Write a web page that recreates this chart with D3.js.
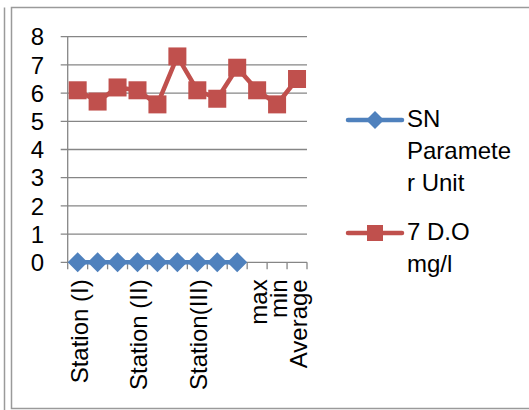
<!DOCTYPE html>
<html>
<head>
<meta charset="utf-8">
<script src="https://cdn.jsdelivr.net/npm/d3@7"></script>
<style>
  html, body { margin: 0; padding: 0; background: #fff; }
  svg { display: block; font-family: "Liberation Sans", Arial, sans-serif; }
</style>
</head>
<body>
<svg id="chart"></svg>
<script>
// categories along the x axis (blank ones carry no label)
const categories = ["Station (I)", "", "", "Station (II)", "", "", "Station(III)", "", "", "max", "min", "Average"];
// series "SN Parameter Unit" (only the nine station rows)
const snValues = [0, 0, 0, 0, 0, 0, 0, 0, 0, null, null, null];
// series "7 D.O mg/l"
const doValues = [6.1, 5.7, 6.2, 6.1, 5.6, 7.3, 6.1, 5.8, 6.9, 6.1, 5.6, 6.5];
const yTicks = [0, 1, 2, 3, 4, 5, 6, 7, 8];
const legendItems = [
    { lines: ["SN", "Paramete", "r Unit"], color: "#4F81BD", marker: "diamond" },
    { lines: ["7 D.O", "mg/l"], color: "#C0504D", marker: "square" }
];

const W = 529, H = 410;
const plot = { left: 67.7, right: 307, top: 36.7, bottom: 262.3 };
const fontSize = 24;

const svg = d3.select("#chart")
    .attr("width", W)
    .attr("height", H)
    .attr("viewBox", [0, 0, W, H]);

// outer frames
svg.append("line")
    .attr("x1", 4.5).attr("x2", 4.5).attr("y1", 7.5).attr("y2", H)
    .attr("stroke", "#9a9a9a").attr("stroke-width", 1.5);
svg.append("rect")
    .attr("x", 11.5).attr("y", 7.5)
    .attr("width", W + 10).attr("height", 401)
    .attr("fill", "none").attr("stroke", "#9a9a9a").attr("stroke-width", 1.5);

const idx = d3.range(categories.length);
const xScale = d3.scaleBand().domain(idx).range([plot.left, plot.right]).paddingInner(0).paddingOuter(0);
const yScale = d3.scaleLinear().domain([0, 8]).range([plot.bottom, plot.top]);
const cx = i => xScale(i) + xScale.bandwidth() / 2;

// horizontal gridlines with small outside ticks on the left
svg.append("g").selectAll("line")
    .data(yTicks)
    .join("line")
    .attr("x1", plot.left - 7)
    .attr("x2", plot.right)
    .attr("y1", d => yScale(d))
    .attr("y2", d => yScale(d))
    .attr("stroke", "#868686")
    .attr("stroke-width", 1.3);

// y axis line
svg.append("line")
    .attr("x1", plot.left).attr("x2", plot.left)
    .attr("y1", plot.top).attr("y2", plot.bottom)
    .attr("stroke", "#868686").attr("stroke-width", 1.3);

// y tick labels
svg.append("g").selectAll("text")
    .data(yTicks)
    .join("text")
    .attr("x", 44)
    .attr("y", d => yScale(d))
    .attr("dy", "0.36em")
    .attr("text-anchor", "end")
    .attr("font-size", fontSize)
    .attr("fill", "#000")
    .text(d => d);

// x tick marks at category boundaries
const bounds = d3.range(categories.length + 1).map(i => i < categories.length ? xScale(i) : plot.right);
svg.append("g").selectAll("line")
    .data(bounds)
    .join("line")
    .attr("x1", d => d).attr("x2", d => d)
    .attr("y1", plot.bottom).attr("y2", plot.bottom + 7)
    .attr("stroke", "#868686").attr("stroke-width", 1.3);

// x category labels, rotated
svg.append("g").selectAll("text")
    .data(idx.filter(i => categories[i] !== ""))
    .join("text")
    .attr("transform", i => `translate(${cx(i) + 10},${plot.bottom + 17}) rotate(-90)`)
    .attr("text-anchor", "end")
    .attr("font-size", fontSize)
    .attr("fill", "#000")
    .text(i => categories[i]);

// series
const line = d3.line()
    .defined(d => d.v !== null)
    .x(d => cx(d.i))
    .y(d => yScale(d.v));

const snData = snValues.map((v, i) => ({ i, v }));
const doData = doValues.map((v, i) => ({ i, v }));

function diamond(g, x, y, color, r) {
    g.append("path")
        .attr("d", `M${x},${y - r}L${x + r},${y}L${x},${y + r}L${x - r},${y}Z`)
        .attr("fill", color);
}
function square(g, x, y, color, s) {
    g.append("rect")
        .attr("x", x - s / 2).attr("y", y - s / 2)
        .attr("width", s).attr("height", s)
        .attr("fill", color);
}

const gSn = svg.append("g");
gSn.append("path")
    .attr("d", line(snData))
    .attr("fill", "none")
    .attr("stroke", "#4F81BD")
    .attr("stroke-width", 4.5);
snData.filter(d => d.v !== null).forEach(d => diamond(gSn, cx(d.i), yScale(d.v), "#4F81BD", 10));

const gDo = svg.append("g");
gDo.append("path")
    .attr("d", line(doData))
    .attr("fill", "none")
    .attr("stroke", "#C0504D")
    .attr("stroke-width", 4.5)
    .attr("stroke-linejoin", "round");
doData.forEach(d => square(gDo, cx(d.i), yScale(d.v), "#C0504D", 18));

// legend
const legendY = [120, 233];
legendItems.forEach((item, k) => {
    const g = svg.append("g");
    const y = legendY[k];
    g.append("line")
        .attr("x1", 348).attr("x2", 402)
        .attr("y1", y).attr("y2", y)
        .attr("stroke", item.color)
        .attr("stroke-width", 4.5)
        .attr("stroke-linecap", "round");
    if (item.marker === "diamond") diamond(g, 375, y, item.color, 9);
    else square(g, 375, y, item.color, 16);
    item.lines.forEach((t, j) => {
        g.append("text")
            .attr("x", 407)
            .attr("y", y + 7 + j * 32)
            .attr("font-size", fontSize)
            .attr("fill", "#000")
            .text(t);
    });
});
</script>
</body>
</html>
